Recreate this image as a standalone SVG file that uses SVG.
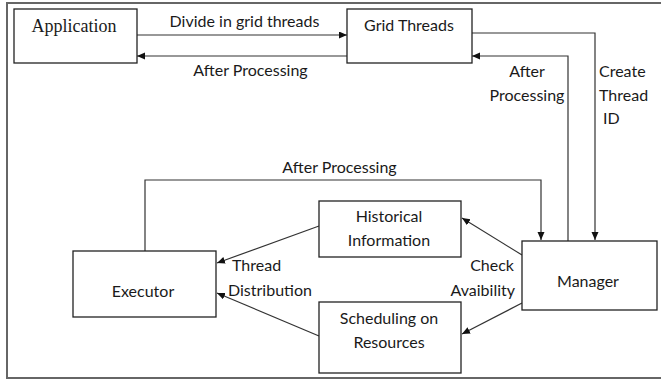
<svg xmlns="http://www.w3.org/2000/svg" width="661" height="380" viewBox="0 0 661 380">
  <defs>
    <marker id="arrow" markerUnits="userSpaceOnUse" markerWidth="9" markerHeight="8" refX="8" refY="3.5" orient="auto">
      <path d="M0,0 L8,3.5 L0,7 z" fill="#111"/>
    </marker>
    <style>
      .frame { fill: none; stroke: #666; stroke-width: 2; }
      .box { fill: #fff; stroke: #222; stroke-width: 1.3; }
      .edge { fill: none; stroke: #333; stroke-width: 1.2; marker-end: url(#arrow); }
      text { font-family: Lato, "Liberation Sans", sans-serif; font-size: 16px; fill: #1a1a1a; }
      .serif { font-family: "Liberation Serif", serif; font-size: 18px; }
      .mid { text-anchor: middle; }
      .end { text-anchor: end; }
    </style>
  </defs>

  <rect width="661" height="380" fill="#fff"/>

  <!-- outer frame: open on the right -->
  <path class="frame" d="M661,3 H7 V378 H661"/>

  <!-- connectors -->
  <g id="connectors">
    <path class="edge" d="M137,35 H347"/>
    <path class="edge" d="M347,56 H137"/>
    <path class="edge" d="M472,33 H595 V240"/>
    <path class="edge" d="M568,241 V56 H472"/>
    <path class="edge" d="M145,251 V180 H541 V240"/>
    <path class="edge" d="M522,255 L462,218"/>
    <path class="edge" d="M522,303 L462,334"/>
    <path class="edge" d="M319,226 L217,263"/>
    <path class="edge" d="M319,336 L217,293"/>
  </g>

  <!-- connector labels -->
  <g id="labels">
    <text class="mid" x="244.5" y="27">Divide in grid threads</text>
    <text class="mid" x="250.5" y="76">After Processing</text>
    <text class="mid" x="527" y="77">After</text>
    <text class="mid" x="527" y="101">Processing</text>
    <text x="599" y="77">Create</text>
    <text x="599" y="101">Thread</text>
    <text x="603" y="124">ID</text>
    <text class="mid" x="339.5" y="173">After Processing</text>
    <text x="232" y="271">Thread</text>
    <text x="228" y="296">Distribution</text>
    <text class="end" x="514" y="271">Check</text>
    <text class="end" x="515" y="296">Avaibility</text>
  </g>

  <!-- nodes -->
  <g id="application">
    <rect class="box" x="14" y="9" width="123" height="54"/>
    <text class="serif mid" x="74" y="32">Application</text>
  </g>
  <g id="grid-threads">
    <rect class="box" x="347" y="9" width="125" height="54"/>
    <text class="mid" x="409" y="31">Grid Threads</text>
  </g>
  <g id="executor">
    <rect class="box" x="73" y="251" width="143" height="66"/>
    <text class="mid" x="143" y="297">Executor</text>
  </g>
  <g id="historical-information">
    <rect class="box" x="319" y="201" width="142" height="56"/>
    <text class="mid" x="389" y="222">Historical</text>
    <text class="mid" x="389" y="246">Information</text>
  </g>
  <g id="scheduling-on-resources">
    <rect class="box" x="319" y="302" width="142" height="71"/>
    <text class="mid" x="389" y="324">Scheduling on</text>
    <text class="mid" x="389" y="348">Resources</text>
  </g>
  <g id="manager">
    <rect class="box" x="522" y="241" width="135" height="69"/>
    <text class="mid" x="588" y="287">Manager</text>
  </g>
</svg>
